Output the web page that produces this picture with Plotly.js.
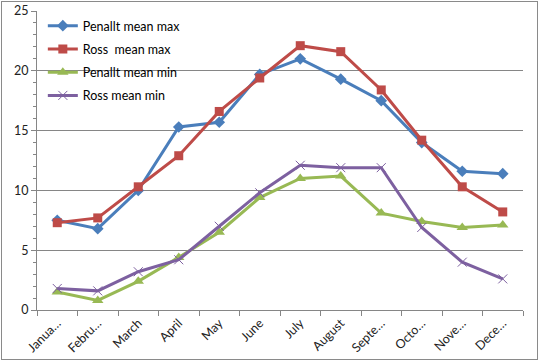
<!DOCTYPE html>
<html>
<head>
<meta charset="utf-8">
<script src="https://cdn.plot.ly/plotly-3.0.1.min.js"></script>
<style>
html,body{margin:0;padding:0;background:#fff;}
#frame{position:absolute;left:1px;top:1px;width:535px;height:357px;border:1px solid #8a8a8a;pointer-events:none;z-index:5;}
#chart{position:absolute;left:0;top:0;width:539px;height:362px;}
</style>
</head>
<body>
<div id="chart"></div>
<div id="frame"></div>
<script>
var months = ["January","February","March","April","May","June","July","August","September","October","November","December"];
var tickLabels = ["Janua…","Febru…","March","April","May","June","July","August","Septe…","Octo…","Nove…","Dece…"];
var penalltMax = [7.5, 6.8, 10.0, 15.3, 15.7, 19.7, 21.0, 19.3, 17.5, 14.0, 11.6, 11.4];
var rossMax    = [7.3, 7.7, 10.3, 12.9, 16.6, 19.4, 22.1, 21.6, 18.4, 14.2, 10.3, 8.2];
var penalltMin = [1.5, 0.8, 2.4, 4.4, 6.5, 9.4, 11.0, 11.2, 8.1, 7.4, 6.9, 7.1];
var rossMin    = [1.8, 1.6, 3.2, 4.2, 7.0, 9.8, 12.1, 11.9, 11.9, 6.9, 4.0, 2.6];

function tr(name, y, color, symbol, size, lw){
  return {
    type:"scatter", mode:"lines+markers", name:name, x:months, y:y,
    legendgroup:name,
    line:{color:color, width:3},
    marker:{color:color, symbol:symbol, size:size, line:{color:color, width:lw||0}}
  };
}
var data = [
  tr("Penallt mean max", penalltMax, "#4A7EBB", "diamond", 9),
  tr("Ross\u00a0 mean max", rossMax, "#BE4B48", "square", 9),
  tr("Penallt mean min", penalltMin, "#98B954", "triangle-up", 10),
  tr("Ross mean min", rossMin, "#7D60A0", "x-thin", 9, 1)
];
var layout = {
  width:539, height:362,
  margin:{l:37, r:16, t:11, b:52},
  paper_bgcolor:"#fff", plot_bgcolor:"#fff",
  font:{family:"Lato, 'Liberation Sans', sans-serif", size:12, color:"#222"},
  showlegend:true,
  legend:{x:0.012, y:1.0, xanchor:"left", yanchor:"top", bgcolor:"rgba(0,0,0,0)",
    font:{size:12.5, color:"#000"}, tracegroupgap:4, itemwidth:30},
  xaxis:{
    type:"category", range:[-0.5, 11.5],
    tickmode:"array", tickvals:months, ticktext:tickLabels,
    tickangle:-45, tickson:"boundaries", ticks:"outside", ticklen:5, tickcolor:"#868686",
    showline:true, linecolor:"#868686", linewidth:1, showgrid:false, zeroline:false,
    tickfont:{size:12.5, color:"#222"}
  },
  yaxis:{
    range:[0,25], dtick:5, tick0:0, ticks:"outside", ticklen:5, tickcolor:"#868686",
    showline:true, linecolor:"#868686", linewidth:1,
    showgrid:true, gridcolor:"#868686", gridwidth:1, zeroline:false,
    minor:{dtick:1, ticks:"outside", ticklen:3, tickcolor:"#868686", showgrid:false},
    tickfont:{size:12.5, color:"#222"}
  }
};
Plotly.newPlot("chart", data, layout, {displayModeBar:false, staticPlot:true});
</script>
</body>
</html>
